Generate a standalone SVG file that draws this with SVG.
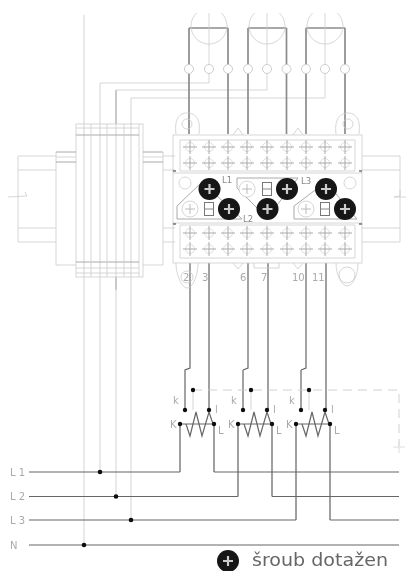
<svg xmlns="http://www.w3.org/2000/svg" xmlns:xlink="http://www.w3.org/1999/xlink" width="409" height="571" viewBox="0 0 409 571">
<style>
.f{fill:none;stroke:#ccc;stroke-width:.8}
.m{fill:none;stroke:#aaa;stroke-width:1}
.w{fill:none;stroke:#777;stroke-width:1.4}
.t{fill:none;stroke:#8c8c8c;stroke-width:1.7}
.p{fill:none;stroke:#666;stroke-width:1.2}
.v{fill:none;stroke:#d4d4d4;stroke-width:1}
.d{fill:#111}
.l{font-family:"DejaVu Sans",Arial,sans-serif;font-size:10px;fill:#aaa}
.s{font-family:"DejaVu Sans",Arial,sans-serif;font-size:8.500px;fill:#888}
.g{font-family:"DejaVu Sans",Arial,sans-serif;font-size:18px;fill:#666}
</style>
<defs>
<filter id="b" x="-5%" y="-5%" width="110%" height="110%"><feGaussianBlur stdDeviation="0.7"/></filter>
<g id="tc"><circle r="4.500" fill="none" stroke="#ddd" stroke-width="1"/><path d="M-7 0H7M0-7V7" stroke="#aaa" stroke-width="1"/></g>
<g id="col"><use xlink:href="#tc" y="0"/><use xlink:href="#tc" y="16"/></g>
<g id="strip"><use xlink:href="#col" x="190"/><use xlink:href="#col" x="209"/><use xlink:href="#col" x="228"/><use xlink:href="#col" x="247"/><use xlink:href="#col" x="267"/><use xlink:href="#col" x="287"/><use xlink:href="#col" x="306"/><use xlink:href="#col" x="325"/><use xlink:href="#col" x="345"/></g>
<g id="screw"><circle r="11" fill="#151515"/><path d="M-5 0H5M0-5V5" stroke="#ccc" stroke-width="2.200"/></g>
<g id="big"><circle r="8" fill="#fff" stroke="#ccc" stroke-width=".8"/><path d="M-5 0H5M0-5V5" stroke="#bbb" stroke-width="1"/></g>
<g id="box"><rect x="-4.500" y="-6.500" width="9" height="13" fill="#fff" stroke="#777" stroke-width="1"/><path d="M-4.500 0H4.500" stroke="#888"/></g>
<g id="term"><circle r="4.500" fill="#fff" stroke="#ccc"/></g>
<g id="ctc">
<path class="p" d="M0 14H34"/>
<path class="p" d="M6 14L10 26L16 2L22 26L29 2L33 14"/>
<circle class="d" r="2.200" cy="14"/><circle class="d" r="2.200" cx="34" cy="14"/>
<circle class="d" r="2.200" cx="5" cy="0"/><circle class="d" r="2.200" cx="29" cy="0"/>
<text class="l" x="-10" y="18">K</text><text class="l" x="38" y="24">L</text><text class="l" x="-7" y="-6">k</text><text class="l" x="35" y="3">l</text>
</g>
</defs>
<g filter="url(#b)">
<g id="connectors">
<path class="v" d="M84 15V545M100 83V472M116 90V496M131 98V520"/>
<path class="f" d="M100 83H209M116 90H267M131 98H325"/>
<path class="m" d="M116 90V124M116 277V290"/>
<path class="t" d="M189 28V134M228 28V134M248 28V134M286.500 28V134M306 28V134M345 28V134"/>
<path class="t" d="M189 28H228M248 28H286.500M306 28H345"/>
<path class="f" d="M209 13V65M267 13V65M325 13V65M209 74V83M267 74V90M325 74V98"/>
<path class="p" d="M190 263V368L185 370V410M243 370V410M301 370V410M248 263V368L243 370M306 263V368L301 370"/>
<path class="w" d="M209 263V410M268 263V410M326 263V410"/>
<path class="w" d="M180 424V472M214 424V472M238 424V496.500M272 424V496.500M296 424V520M330 424V520"/>
<path class="p" d="M29 472H180M214 472H399M29 496.500H238M272 496.500H399M29 520H296M330 520H399M29 545H399"/>
<path d="M193 390H399V446" fill="none" stroke="#ccc" stroke-width=".9" stroke-dasharray="9 6"/>
<path d="M393 447H405M399 441V453" stroke="#ddd" stroke-width="1"/>
<path class="v" d="M193 390V410M251 390V410M309 390V410"/>
<g class="d"><circle cx="100" cy="472" r="2.300"/><circle cx="116" cy="496.500" r="2.300"/><circle cx="131" cy="520" r="2.300"/><circle cx="84" cy="545" r="2.300"/><circle cx="193" cy="390" r="2.200"/><circle cx="251" cy="390" r="2.200"/><circle cx="309" cy="390" r="2.200"/></g>
</g>
<g id="sensor-1"><path class="f" d="M196.600 13A18 18 0 1 0 221.400 13"/><use xlink:href="#term" x="189" y="69"/><use xlink:href="#term" x="209" y="69"/><use xlink:href="#term" x="228" y="69"/></g>
<g id="sensor-2"><path class="f" d="M254.600 13A18 18 0 1 0 279.400 13"/><use xlink:href="#term" x="248" y="69"/><use xlink:href="#term" x="267" y="69"/><use xlink:href="#term" x="286.500" y="69"/></g>
<g id="sensor-3"><path class="f" d="M312.600 13A18 18 0 1 0 337.400 13"/><use xlink:href="#term" x="306" y="69"/><use xlink:href="#term" x="325" y="69"/><use xlink:href="#term" x="345" y="69"/></g>
<g id="din-rail">
<path class="f" d="M18 156V242M18 156H56M18 170H56M18 228H56M18 242H56M8 197L27 196L25 192M163 156H175M163 170H175M163 228H175M163 242H175M362 156H400V242H362M362 170H400M362 228H400M400 190V196L394 197H406"/>
<path class="f" d="M56 152V265H76M163 152V265H143"/>
</g>
<g id="breaker">
<rect class="f" x="76" y="124" width="67" height="153" fill="#fff"/>
<path class="f" d="M139 124V277"/>
<path class="f" d="M76 128H139M76 268H139M76 273H139"/>
<path class="m" d="M76 135H139M76 262H139"/>
<path class="m" d="M56 152H76M143 152H163"/>
<path class="f" d="M56 157H76M143 157H163"/>
<path class="m" d="M56 162H76M143 162H163"/>
<path class="f" d="M91 124V277M107 124V277M124 124V277"/>
</g>
<g id="terminal-block">
<rect class="f" x="173" y="135" width="189" height="128" fill="#fff"/>
<path class="f" d="M180 140H355V171H180ZM180 225H355V258H180ZM173 173H362M173 223H362"/>
<path class="f" d="M176 134C174 118 180 113 187 113C195 113 201 118 199 134M336 134C334 118 341 113 348 113C355 113 361 118 359 134"/>
<circle class="f" cx="187" cy="124" r="5"/><circle class="f" cx="348" cy="124" r="5"/>
<path class="f" d="M176 263C176 275 182 288 187 288C193 288 198 275 198 263M336 263C336 275 342 286 347 286C353 286 358 275 358 263"/>
<circle class="f" cx="187" cy="277" r="6"/><circle class="f" cx="347" cy="275" r="8"/>
<path class="f" d="M254 263V268H279V263M233 263L238 269L243 263M293 263L298 269L303 263M233 135L238 128L243 135M293 135L298 128L303 135"/>
<use xlink:href="#strip" y="147"/><use xlink:href="#strip" y="233"/>
<circle class="f" cx="185" cy="183" r="6"/><circle class="f" cx="350" cy="183" r="6"/>
<path class="m" d="M177 219V206L202 182L242 219ZM237 178H298L267 218L237 188ZM294 219V206L326 182L357 219Z" fill="#fff"/>
<path d="M173 171H176M359 171H362M173 224H176M359 224H362" stroke="#333" stroke-width="1.200"/>
<use xlink:href="#big" x="190" y="209"/><use xlink:href="#box" x="209" y="209"/>
<use xlink:href="#big" x="247" y="189"/><use xlink:href="#box" x="267" y="189"/>
<use xlink:href="#big" x="306" y="209"/><use xlink:href="#box" x="325" y="209"/>
<use xlink:href="#screw" x="209.500" y="189"/><use xlink:href="#screw" x="229" y="209"/>
<use xlink:href="#screw" x="287" y="189"/><use xlink:href="#screw" x="267.500" y="209"/>
<use xlink:href="#screw" x="326" y="189"/><use xlink:href="#screw" x="345" y="209"/>
<text class="s" x="222" y="183">L1</text><text class="s" x="243" y="222">L2</text><text class="s" x="301" y="184">L3</text>
<text class="l" x="183" y="281">2</text><text class="l" x="202" y="281">3</text><text class="l" x="240" y="281">6</text><text class="l" x="261" y="281">7</text><text class="l" x="292" y="281">10</text><text class="l" x="312" y="281">11</text>
</g>
<g id="ct-1"><use xlink:href="#ctc" x="180" y="410"/></g>
<g id="ct-2"><use xlink:href="#ctc" x="238" y="410"/></g>
<g id="ct-3"><use xlink:href="#ctc" x="296" y="410"/></g>
<g id="phase-labels">
<text class="l" x="10" y="476">L 1</text><text class="l" x="10" y="500">L 2</text><text class="l" x="10" y="524">L 3</text><text class="l" x="10" y="549">N</text>
</g>
<g id="legend"><use xlink:href="#screw" x="228" y="561"/><text class="g" x="252" y="566" textLength="136" lengthAdjust="spacingAndGlyphs">šroub dotažen</text></g>
</g>
</svg>
